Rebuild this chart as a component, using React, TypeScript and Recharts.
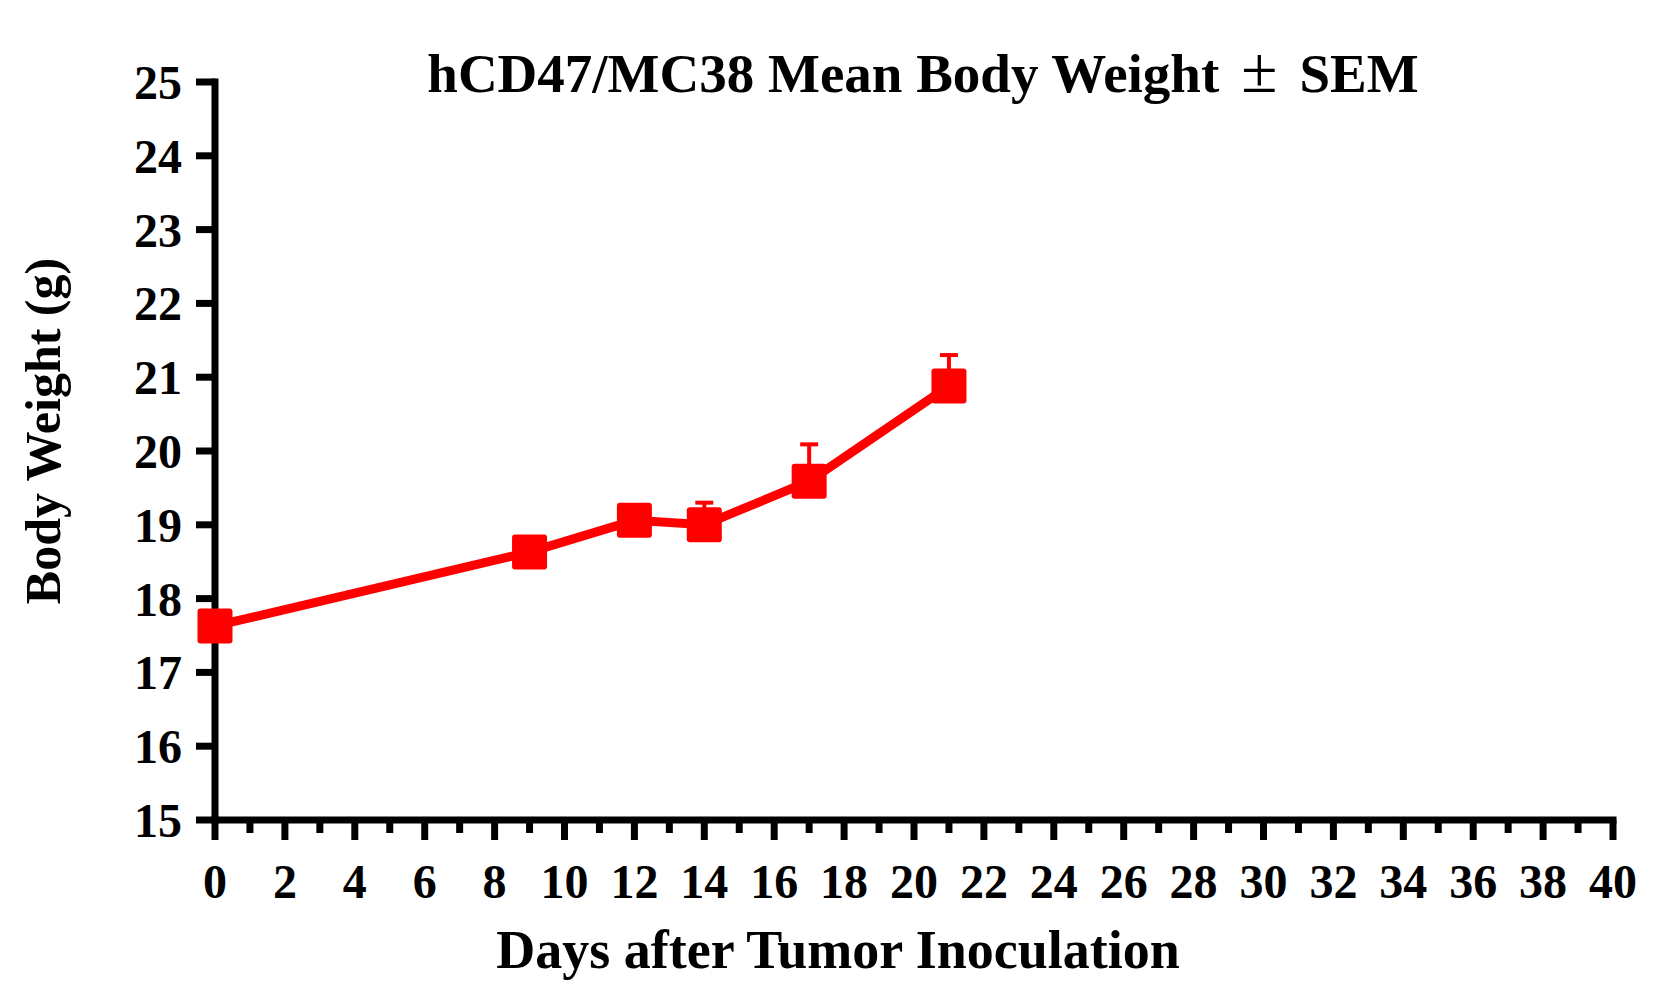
import { LineChart, Line, XAxis, YAxis, ErrorBar } from "recharts";

const days = [0, 9, 12, 14, 17, 21];
const meanWeight = [17.63, 18.63, 19.06, 19.0, 19.59, 20.88];
const semWeight = [0.1, 0.12, 0.1, 0.3, 0.5, 0.42];

const yTicks = [15, 16, 17, 18, 19, 20, 21, 22, 23, 24, 25];
const xMajorTicks = [0, 2, 4, 6, 8, 10, 12, 14, 16, 18, 20, 22, 24, 26, 28, 30, 32, 34, 36, 38, 40];
const xMinorTicks = [1, 3, 5, 7, 9, 11, 13, 15, 17, 19, 21, 23, 25, 27, 29, 31, 33, 35, 37, 39];

const titleStart = "hCD47/MC38 Mean Body Weight";
const titlePm = "\u00B1";
const titleEnd = "SEM";
const xTitle = "Days after Tumor Inoculation";
const yTitle = "Body Weight (g)";

const data = days.map((day, i) => ({
  day,
  weight: meanWeight[i],
  err: [0, semWeight[i]],
}));

const allXTicks = [...xMajorTicks, ...xMinorTicks].sort((a, b) => a - b);

const FONT = "'Liberation Serif', 'Times New Roman', serif";
const W = 1678;
const H = 994;

function XTick(props: any) {
  const { x, y, payload } = props;
  const major = xMajorTicks.includes(payload.value);
  return (
    <g>
      <line x1={x} x2={x} y1={y} y2={y + (major ? 20 : 13)} stroke="#000" strokeWidth={7} />
      {major && (
        <text
          x={x}
          y={y + 78}
          textAnchor="middle"
          fontFamily={FONT}
          fontSize={48}
          fontWeight="bold"
          fill="#000"
        >
          {payload.value}
        </text>
      )}
    </g>
  );
}

function SquareDot(props: any) {
  const { cx, cy, index } = props;
  if (cx == null || cy == null) return null;
  return <rect key={index} x={cx - 17.5} y={cy - 17.5} width={35} height={35} rx={3} fill="#FF0000" />;
}

function YLabels() {
  return (
    <g>
      <text
        x={60}
        y={431}
        transform="rotate(-90 60 431)"
        textAnchor="middle"
        fontFamily={FONT}
        fontSize={50}
        fontWeight="bold"
        fill="#000"
      >
        {yTitle}
      </text>
      <text
        x={923}
        y={92}
        textAnchor="middle"
        fontFamily={FONT}
        fontSize={55}
        fontWeight="bold"
        fill="#000"
      >
        {titleStart}
        <tspan fontSize={66} fontWeight="normal" dx={22}>{titlePm}</tspan>
        <tspan dx={22}>{titleEnd}</tspan>
      </text>
    </g>
  );
}

function XLabel() {
  return (
    <text
      x={838}
      y={968}
      textAnchor="middle"
      fontFamily={FONT}
      fontSize={54}
      fontWeight="bold"
      fill="#000"
    >
      {xTitle}
    </text>
  );
}

export default function App() {
  return (
    <div style={{ position: "absolute", left: 0, top: 0, width: W, height: H, background: "#fff" }}>
      <LineChart width={W} height={H} data={data} margin={{ top: 82, right: 65, bottom: 0, left: 0 }}>
        <XAxis
          dataKey="day"
          type="number"
          domain={[0, 40]}
          ticks={allXTicks}
          interval={0}
          height={174}
          tickSize={0}
          tickMargin={0}
          tickLine={false}
          axisLine={{ stroke: "#000", strokeWidth: 7, strokeLinecap: "square" }}
          tick={<XTick />}
          label={{ content: () => <XLabel /> }}
        />
        <YAxis
          type="number"
          domain={[15, 25]}
          ticks={yTicks}
          interval={0}
          width={215}
          tickSize={19}
          tickMargin={14}
          axisLine={{ stroke: "#000", strokeWidth: 7, strokeLinecap: "square" }}
          tickLine={{ stroke: "#000", strokeWidth: 7 }}
          tick={{ fontSize: 48, fontWeight: "bold", fill: "#000", fontFamily: FONT }}
          label={{ content: () => <YLabels /> }}
        />
        <Line
          type="linear"
          dataKey="weight"
          stroke="#FF0000"
          strokeWidth={9}
          dot={<SquareDot />}
          activeDot={false}
          isAnimationActive={false}
        >
          <ErrorBar dataKey="err" direction="y" width={9} strokeWidth={4} stroke="#FF0000" />
        </Line>
      </LineChart>
    </div>
  );
}
